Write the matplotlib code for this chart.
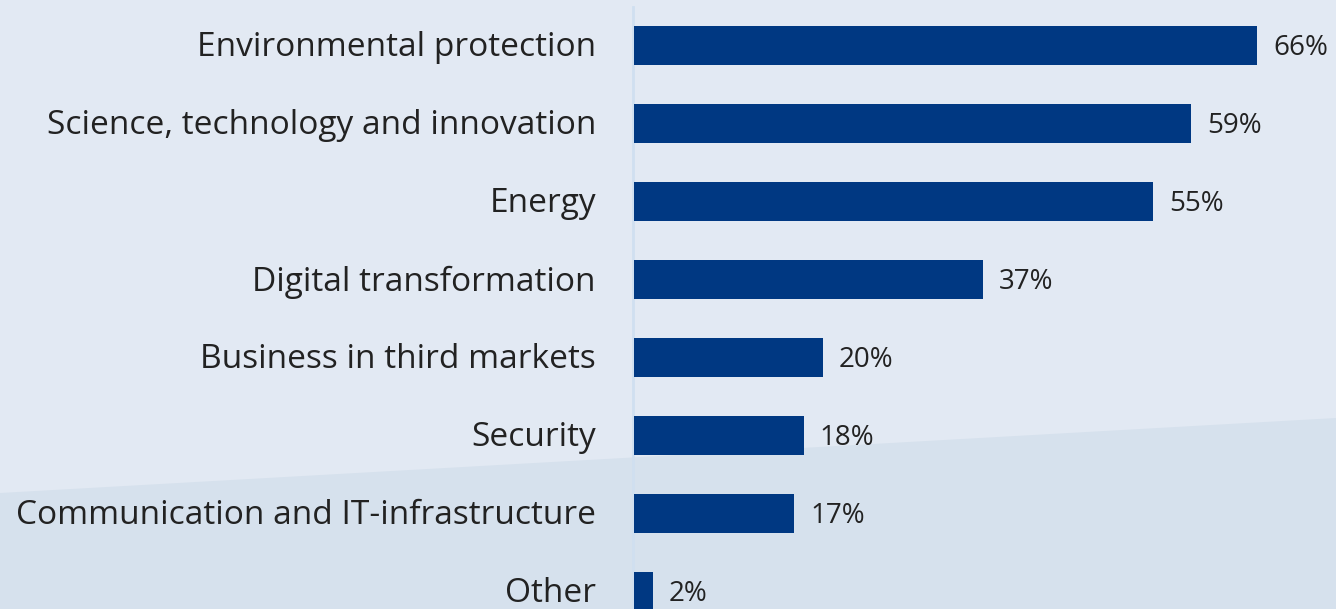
import matplotlib.pyplot as plt
from matplotlib.patches import Polygon

# data
categories = ["Environmental protection", "Science, technology and innovation",
              "Energy", "Digital transformation", "Business in third markets",
              "Security", "Communication and IT-infrastructure", "Other"]
values = [66, 59, 55, 37, 20, 18, 17, 2]

bar_color = "#003882"
text_color = "#222222"

fig = plt.figure(figsize=(13.36, 6.09), dpi=100)
fig.patch.set_facecolor("#e2e9f3")

# lighter/darker background split
bg = Polygon([(0, 1 - 493/609), (1, 1 - 418/609), (1, 0), (0, 0)],
             closed=True, transform=fig.transFigure, facecolor="#d6e1ed",
             edgecolor="none", zorder=-5)
fig.patches.append(bg)

ax = fig.add_axes([0, 0, 1, 1])
ax.set_facecolor("none")
ax.set_zorder(1)

px = 9.44  # pixels per percent
ypos = list(range(len(categories)))
ax.barh(ypos, values, height=0.5, color=bar_color, zorder=3)

ax.set_xlim(-634/px, (1336-634)/px)
ax.set_ylim((609-45)/78, -45/78)

# thin divider line
ax.plot([-0.15, -0.15], [-45/78 + 7/78, 7.3], color="#d0dff0", lw=2, zorder=2)

dy = 3/78  # text sits a touch below bar centre
for y, cat, v in zip(ypos, categories, values):
    ax.text(-38/px, y + dy, cat, ha="right", va="center", fontsize=24.1,
            family="Open Sans", color=text_color)
    ax.text(v + 16/px, y + dy, f"{v}%", ha="left", va="center", fontsize=20,
            family="Open Sans", color=text_color)

ax.axis("off")
fig.savefig("out.png", dpi=100, facecolor=fig.get_facecolor())
